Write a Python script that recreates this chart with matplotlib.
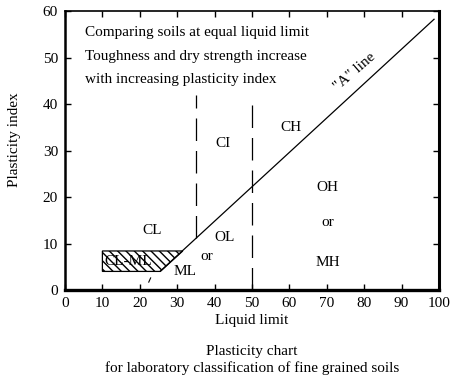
import matplotlib
matplotlib.use("Agg")
import matplotlib.pyplot as plt
import numpy as np
from matplotlib.patches import Polygon

plt.rcParams['font.family'] = ['Liberation Serif', 'DejaVu Serif']

# Data
x_ticks = [0, 10, 20, 30, 40, 50, 60, 70, 80, 90, 100]
y_ticks = [0, 10, 20, 30, 40, 50, 60]
a_line_ll = [25.5, 98.7]          # liquid limit range of "A" line
a_line_slope = 0.74
a_line_offset = 20
hatch_ll = [10, 25.5, 31.5, 10]
hatch_pi = [4, 4, 8.4, 8.4]
div_ll = [35, 50]
div_top = 42
labels = ["CL", "CL-ML", "ML", "or", "OL", "CI", "CH", "OH", "or", "MH"]
label_ll = [23.2, 16.8, 32.0, 38.0, 42.8, 42.2, 60.4, 70.3, 70.3, 70.3]
label_pi = [12.7, 6.2, 4.0, 7.3, 11.2, 31.6, 35.0, 22.0, 14.5, 6.0]
notes = ["Comparing soils at equal liquid limit",
         "Toughness and dry strength increase",
         "with increasing plasticity index"]
notes_pi = [55.3, 50.2, 45.2]

def a_line(ll):
    return a_line_slope * (np.asarray(ll) - a_line_offset)

fig = plt.figure(figsize=(4.62, 3.82), dpi=100)
ax = fig.add_axes([0.1407, 0.2408, 0.8093, 0.7302])
ax.set_xlim(0, 100)
ax.set_ylim(0, 60)

# A line
ax.plot(a_line_ll, a_line(a_line_ll), color='black', lw=0.9)

# hatched CL-ML zone
poly = Polygon(list(zip(hatch_ll, hatch_pi)), closed=True, facecolor='white',
               edgecolor='black', hatch='\\\\\\\\', lw=0.9)
ax.add_patch(poly)
ax.plot([22.4, 22.9], [1.7, 2.6], color='black', lw=0.8)

# dashed divisions
for i, ll in enumerate(div_ll):
    bottom = float(a_line(ll)) if i == 0 else 0
    ax.plot([ll, ll], [bottom, div_top], color='black', lw=0.9,
            dashes=(18, 8))

fs = 11
for t, x, y in zip(labels, label_ll, label_pi):
    ax.text(x, y, t, ha='center', va='center', fontsize=fs)

for t, y in zip(notes, notes_pi):
    ax.text(5.3, y, t, ha='left', va='center', fontsize=fs)

ax.text(77.5, 47, '"A" line', ha='center', va='center', fontsize=fs,
        rotation=41, rotation_mode='anchor')

ax.set_xticks(x_ticks)
ax.set_yticks(y_ticks)
ax.tick_params(direction='in', length=4.5, width=1, top=True, right=True,
               labelsize=fs, pad=5)
ax.spines['left'].set_linewidth(1.8)
ax.spines['bottom'].set_linewidth(2.4)
ax.spines['right'].set_linewidth(2.2)
ax.spines['top'].set_linewidth(1.2)

ax.set_xlabel('Liquid limit', fontsize=fs, labelpad=3)
ax.set_ylabel('Plasticity index', fontsize=fs)
ax.yaxis.set_label_coords(-0.117, 0.54)

fig.text(252 / 462, 1 - 352 / 382, 'Plasticity chart', ha='center',
         va='center', fontsize=fs)
fig.text(252 / 462, 1 - 368 / 382,
         'for laboratory classification of fine grained soils',
         ha='center', va='center', fontsize=fs)

fig.savefig('out.png', dpi=100)
